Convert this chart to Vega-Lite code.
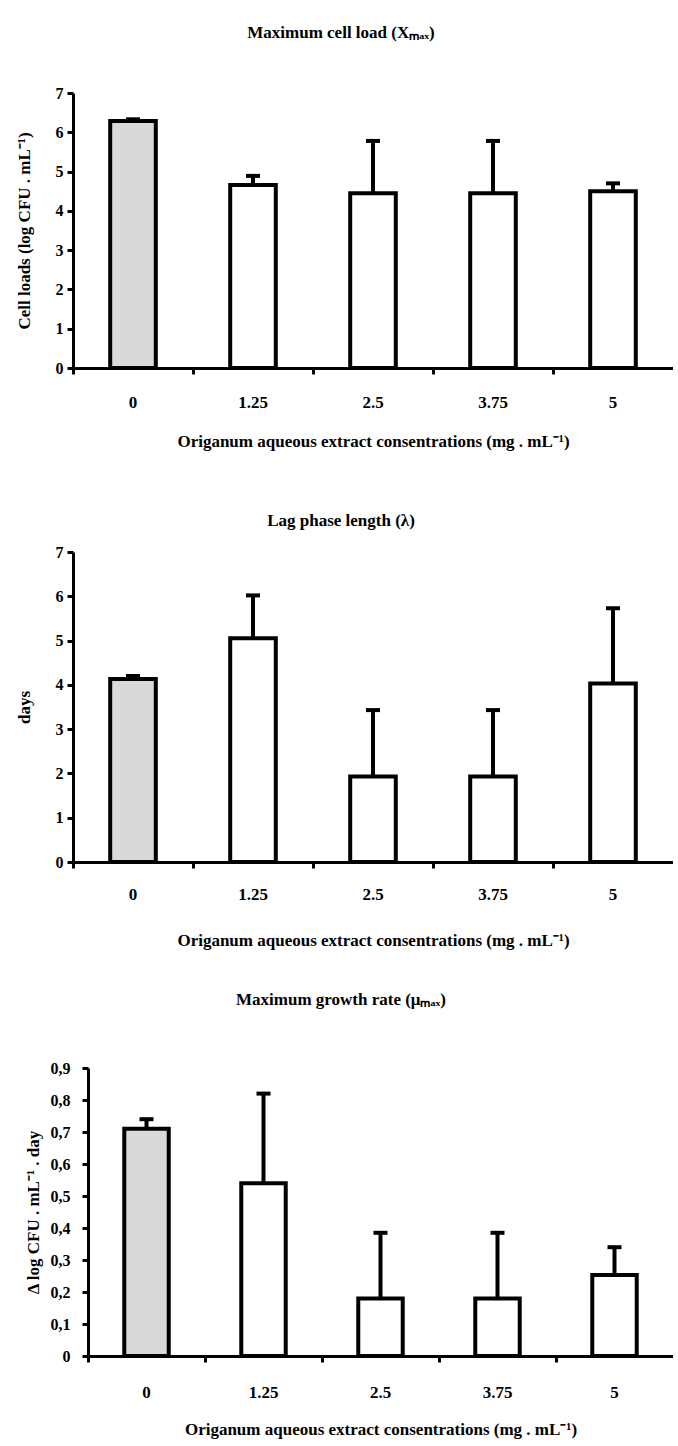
{
  "$schema": "https://vega.github.io/schema/vega-lite/v6.json",
  "padding": {"left": 15, "top": 24, "right": 0, "bottom": 5},
  "spacing": 43,
  "background": "white",
  "datasets": {
    "xmax": [
      {"conc": "0", "value": 6.29, "upper": 6.33},
      {"conc": "1.25", "value": 4.66, "upper": 4.89},
      {"conc": "2.5", "value": 4.45, "upper": 5.78},
      {"conc": "3.75", "value": 4.45, "upper": 5.78},
      {"conc": "5", "value": 4.5, "upper": 4.7}
    ],
    "lag": [
      {"conc": "0", "value": 4.13, "upper": 4.2},
      {"conc": "1.25", "value": 5.05, "upper": 6.02},
      {"conc": "2.5", "value": 1.93, "upper": 3.43},
      {"conc": "3.75", "value": 1.93, "upper": 3.43},
      {"conc": "5", "value": 4.03, "upper": 5.73}
    ],
    "mu": [
      {"conc": "0", "value": 0.71, "upper": 0.74},
      {"conc": "1.25", "value": 0.54, "upper": 0.82},
      {"conc": "2.5", "value": 0.18, "upper": 0.385},
      {"conc": "3.75", "value": 0.18, "upper": 0.385},
      {"conc": "5", "value": 0.253, "upper": 0.34}
    ]
  },
  "vconcat": [
    {
      "title": {"text": "Maximum cell load (Xₘₐₓ)", "offset": 43, "dx": -32},
      "width": 600,
      "height": 275,
      "data": {"name": "xmax"},
      "encoding": {
        "x": {"field": "conc", "type": "nominal", "sort": ["0", "1.25", "2.5", "3.75", "5"],
          "scale": {"paddingInner": 0, "paddingOuter": 0},
          "axis": {"title": "Origanum aqueous extract consentrations (mg . mL⁻¹)", "labelAngle": 0, "bandPosition": 0, "labelPadding": 20, "titlePadding": 23}}
      },
      "layer": [
        {"mark": {"type": "rule", "strokeWidth": 4, "color": "black"},
          "encoding": {
            "y": {"field": "value", "type": "quantitative", "scale": {"domain": [0, 7]},
              "axis": {"title": "Cell loads (log CFU . mL⁻¹)", "values": [0,1,2,3,4,5,6,7], "labelPadding": 4, "titlePadding": 22}},
            "y2": {"field": "upper"}}},
        {"mark": {"type": "bar", "stroke": "black", "strokeWidth": 4, "width": {"band": 0.38}, "opacity": 1},
          "encoding": {
            "y": {"field": "value", "type": "quantitative", "scale": {"domain": [0, 7]},
              "axis": {"title": "Cell loads (log CFU . mL⁻¹)", "values": [0,1,2,3,4,5,6,7], "labelPadding": 4, "titlePadding": 22}},
            "fill": {"condition": {"test": "datum.conc === '0'", "value": "#d9d9d9"}, "value": "white"}
          }},
        {"mark": {"type": "tick", "thickness": 4, "size": 14, "color": "black", "opacity": 1},
          "encoding": {"y": {"field": "upper", "type": "quantitative", "scale": {"domain": [0, 7]},
              "axis": {"title": "Cell loads (log CFU . mL⁻¹)", "values": [0,1,2,3,4,5,6,7], "labelPadding": 4, "titlePadding": 22}}}}
      ]
    },
    {
      "title": {"text": ["", "Lag phase length (λ)"], "offset": 14, "lineHeight": 20, "dx": -32},
      "width": 600,
      "height": 310,
      "data": {"name": "lag"},
      "encoding": {
        "x": {"field": "conc", "type": "nominal", "sort": ["0", "1.25", "2.5", "3.75", "5"],
          "scale": {"paddingInner": 0, "paddingOuter": 0},
          "axis": {"title": "Origanum aqueous extract consentrations (mg . mL⁻¹)", "labelAngle": 0, "bandPosition": 0, "labelPadding": 18, "titlePadding": 30}}
      },
      "layer": [
        {"mark": {"type": "rule", "strokeWidth": 4, "color": "black"},
          "encoding": {
            "y": {"field": "value", "type": "quantitative", "scale": {"domain": [0, 7]},
              "axis": {"title": "days", "values": [0,1,2,3,4,5,6,7], "labelPadding": 4, "titlePadding": 22}},
            "y2": {"field": "upper"}}},
        {"mark": {"type": "bar", "stroke": "black", "strokeWidth": 4, "width": {"band": 0.38}, "opacity": 1},
          "encoding": {
            "y": {"field": "value", "type": "quantitative", "scale": {"domain": [0, 7]},
              "axis": {"title": "days", "values": [0,1,2,3,4,5,6,7], "labelPadding": 4, "titlePadding": 22}},
            "fill": {"condition": {"test": "datum.conc === '0'", "value": "#d9d9d9"}, "value": "white"}
          }},
        {"mark": {"type": "tick", "thickness": 4, "size": 14, "color": "black", "opacity": 1},
          "encoding": {"y": {"field": "upper", "type": "quantitative", "scale": {"domain": [0, 7]},
              "axis": {"title": "days", "values": [0,1,2,3,4,5,6,7], "labelPadding": 4, "titlePadding": 22}}}}
      ]
    },
    {
      "title": {"text": "Maximum growth rate (μₘₐₓ)", "offset": 51, "dx": -32},
      "width": 600,
      "height": 288,
      "data": {"name": "mu"},
      "encoding": {
        "x": {"field": "conc", "type": "nominal", "sort": ["0", "1.25", "2.5", "3.75", "5"],
          "scale": {"paddingInner": 0, "paddingOuter": 0, "range": [15, 600]},
          "axis": {"title": "Origanum aqueous extract consentrations (mg . mL⁻¹)", "labelAngle": 0, "bandPosition": 0, "labelPadding": 22, "titlePadding": 21}}
      },
      "layer": [
        {"mark": {"type": "rule", "strokeWidth": 4, "color": "black"},
          "encoding": {
            "y": {"field": "value", "type": "quantitative", "scale": {"domain": [0, 0.9]},
              "axis": {"title": "Δ log CFU . mL⁻¹ . day", "offset": -15, "values": [0,0.1,0.2,0.3,0.4,0.5,0.6,0.7,0.8,0.9],
                "labelExpr": "datum.value == 0 ? '0' : replace(format(datum.value, '.1f'), '.', ',')",
                "labelPadding": 12, "titlePadding": 8}},
            "y2": {"field": "upper"}}},
        {"mark": {"type": "bar", "stroke": "black", "strokeWidth": 4, "width": {"band": 0.38}, "opacity": 1},
          "encoding": {
            "y": {"field": "value", "type": "quantitative", "scale": {"domain": [0, 0.9]},
              "axis": {"title": "Δ log CFU . mL⁻¹ . day", "offset": -15, "values": [0,0.1,0.2,0.3,0.4,0.5,0.6,0.7,0.8,0.9],
                "labelExpr": "datum.value == 0 ? '0' : replace(format(datum.value, '.1f'), '.', ',')",
                "labelPadding": 12, "titlePadding": 8}},
            "fill": {"condition": {"test": "datum.conc === '0'", "value": "#d9d9d9"}, "value": "white"}
          }},
        {"mark": {"type": "tick", "thickness": 4, "size": 14, "color": "black", "opacity": 1},
          "encoding": {"y": {"field": "upper", "type": "quantitative", "scale": {"domain": [0, 0.9]},
              "axis": {"title": "Δ log CFU . mL⁻¹ . day", "offset": -15, "values": [0,0.1,0.2,0.3,0.4,0.5,0.6,0.7,0.8,0.9],
                "labelExpr": "datum.value == 0 ? '0' : replace(format(datum.value, '.1f'), '.', ',')",
                "labelPadding": 12, "titlePadding": 8}}}}
      ]
    }
  ],
  "config": {
    "font": "Liberation Serif",
    "view": {"stroke": null},
    "title": {"font": "Liberation Serif", "fontSize": 17, "fontWeight": "bold", "color": "black", "anchor": "middle"},
    "axis": {
      "grid": false,
      "domainColor": "black", "domainWidth": 3,
      "tickColor": "black", "tickWidth": 3, "tickSize": 6,
      "labelFont": "Liberation Serif", "labelFontSize": 17, "labelFontWeight": "bold", "labelColor": "black",
      "titleFont": "Liberation Serif", "titleFontSize": 17, "titleFontWeight": "bold", "titleColor": "black"
    },
    "axisY": {"labelFontSize": 16}
  }
}
